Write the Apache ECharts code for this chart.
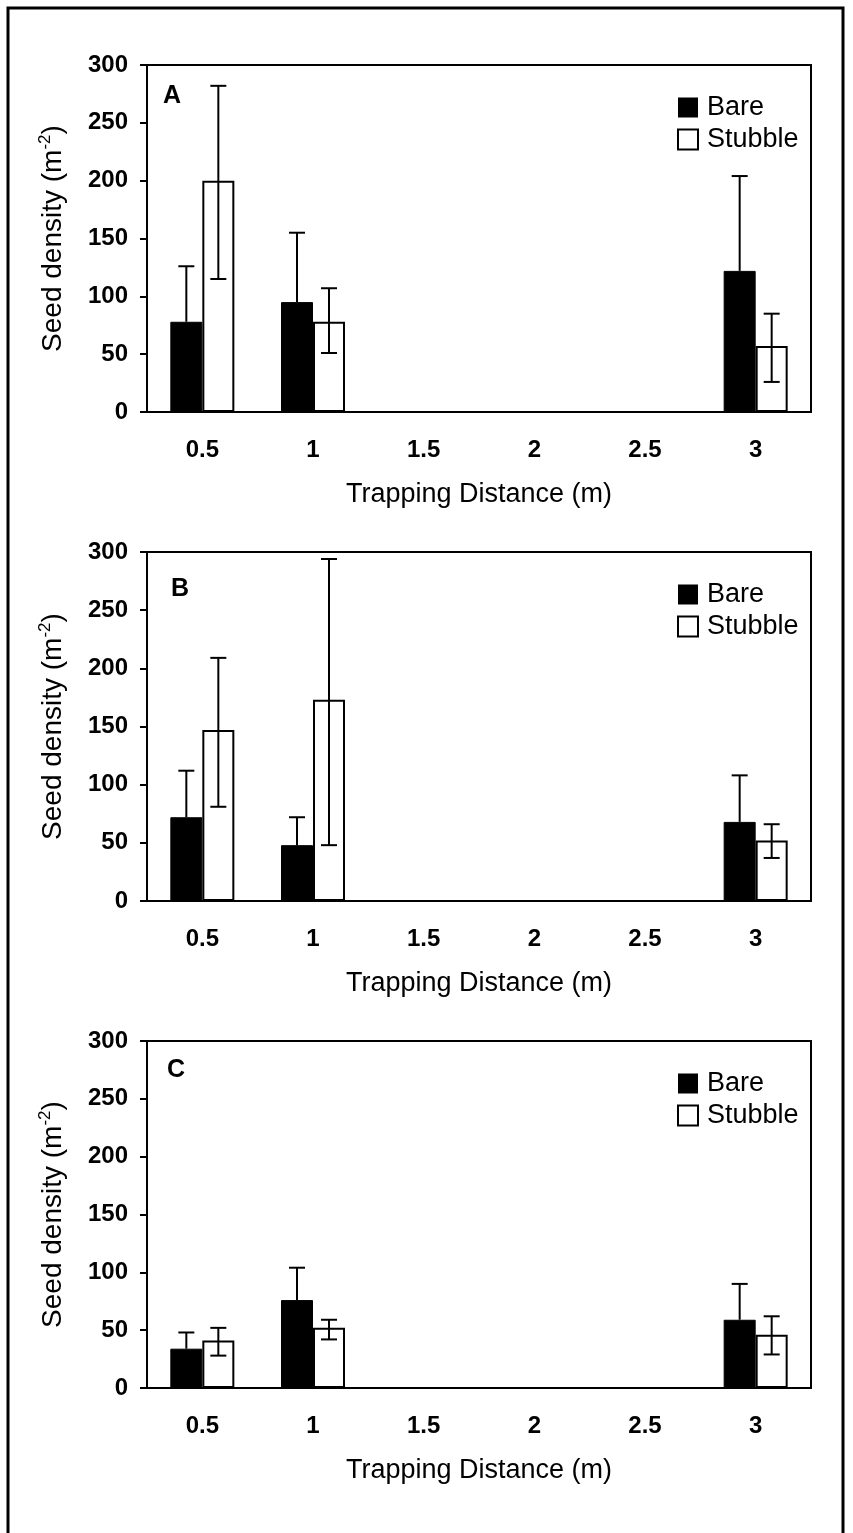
<!DOCTYPE html>
<html>
<head>
<meta charset="utf-8">
<script src="https://cdn.jsdelivr.net/npm/echarts@6/dist/echarts.min.js"></script>
<style>
  html, body { margin: 0; padding: 0; background: #fff; }
  #chart { width: 853px; height: 1533px; }
</style>
</head>
<body>
<div id="chart"></div>
<script>
// trapping distances (m)
const categories = ['0.5', '1', '1.5', '2', '2.5', '3'];

// panel A
const bareA = [78, 95, null, null, null, 122];
const bareAHigh = [126, 155, null, null, null, 204];
const stubbleA = [200, 78, null, null, null, 57];
const stubbleALow = [115, 51, null, null, null, 26];
const stubbleAHigh = [282, 107, null, null, null, 85];

// panel B
const bareB = [72, 48, null, null, null, 68];
const bareBHigh = [112, 72, null, null, null, 108];
const stubbleB = [147, 173, null, null, null, 52];
const stubbleBLow = [81, 48, null, null, null, 37];
const stubbleBHigh = [209, 294, null, null, null, 66];

// panel C
const bareC = [34, 76, null, null, null, 59];
const bareCHigh = [48, 104, null, null, null, 90];
const stubbleC = [41, 52, null, null, null, 46];
const stubbleCLow = [28, 42, null, null, null, 29];
const stubbleCHigh = [52, 59, null, null, null, 62];

const yTicks = [0, 50, 100, 150, 200, 250, 300];

const panels = [
  { label: 'A', bare: bareA, bareHigh: bareAHigh, stubble: stubbleA, stubbleLow: stubbleALow, stubbleHigh: stubbleAHigh },
  { label: 'B', bare: bareB, bareHigh: bareBHigh, stubble: stubbleB, stubbleLow: stubbleBLow, stubbleHigh: stubbleBHigh },
  { label: 'C', bare: bareC, bareHigh: bareCHigh, stubble: stubbleC, stubbleLow: stubbleCLow, stubbleHigh: stubbleCHigh }
];

const FONT = "'Liberation Sans', Arial, sans-serif";
const BAR_W = 32;
const gridPos = [
  { top: 65, height: 347, labelLeft: 163, labelTop: 84 },
  { top: 552, height: 349, labelLeft: 171, labelTop: 577 },
  { top: 1041, height: 347, labelLeft: 167, labelTop: 1058 }
];

const blank = v => (v == null ? '-' : v);

// error bar: vertical line from low to high, cap on top (and bottom if both)
function errorBar(offset, bothCaps) {
  return function (params, api) {
    const hi = api.coord([api.value(0), api.value(2)]);
    const lo = api.coord([api.value(0), api.value(1)]);
    const x = hi[0] + offset;
    const cap = 8;
    const style = { stroke: '#000', lineWidth: 2 };
    const children = [
      { type: 'line', shape: { x1: x, y1: lo[1], x2: x, y2: hi[1] }, style },
      { type: 'line', shape: { x1: x - cap, y1: hi[1], x2: x + cap, y2: hi[1] }, style }
    ];
    if (bothCaps) {
      children.push({ type: 'line', shape: { x1: x - cap, y1: lo[1], x2: x + cap, y2: lo[1] }, style });
    }
    return { type: 'group', children };
  };
}

const grid = [], xAxis = [], yAxis = [], series = [], legend = [], title = [];

panels.forEach((p, i) => {
  const g = gridPos[i];
  grid.push({
    left: 147, width: 664, top: g.top, height: g.height,
    show: true, borderColor: '#000', borderWidth: 2, backgroundColor: '#fff'
  });
  xAxis.push({
    type: 'category', gridIndex: i, data: categories,
    axisLine: { lineStyle: { color: '#000', width: 2 } },
    axisTick: { alignWithLabel: true, length: 7, lineStyle: { color: '#000', width: 2 } },
    axisLabel: { color: '#000', fontSize: 24, fontWeight: 'bold', fontFamily: FONT, margin: 26 },
    splitLine: { show: false },
    name: 'Trapping Distance (m)', nameLocation: 'middle', nameGap: 69,
    nameTextStyle: { color: '#000', fontSize: 27, fontFamily: FONT }
  });
  yAxis.push({
    type: 'value', gridIndex: i, min: yTicks[0], max: yTicks[yTicks.length - 1], interval: 50,
    axisLine: { show: true, lineStyle: { color: '#000', width: 2 } },
    axisTick: { show: true, length: 7, lineStyle: { color: '#000', width: 2 } },
    axisLabel: { color: '#000', fontSize: 24, fontWeight: 'bold', fontFamily: FONT, margin: 19 },
    splitLine: { show: false },
    name: '{a|Seed density (m}{s|-2}{a|)}', nameLocation: 'middle', nameGap: 78,
    nameTextStyle: {
      rich: {
        a: { fontSize: 28, fontFamily: FONT, color: '#000', lineHeight: 32 },
        s: { fontSize: 17, fontFamily: FONT, color: '#000', verticalAlign: 'top', lineHeight: 17 }
      }
    }
  });
  series.push(
    {
      name: 'Bare', type: 'bar', xAxisIndex: i, yAxisIndex: i,
      data: p.bare.map(blank), barWidth: BAR_W, barGap: '0%',
      itemStyle: { color: '#000', borderColor: '#000', borderWidth: 1 }
    },
    {
      name: 'Stubble', type: 'bar', xAxisIndex: i, yAxisIndex: i,
      data: p.stubble.map(blank), barWidth: BAR_W, barGap: '0%',
      itemStyle: { color: '#fff', borderColor: '#000', borderWidth: 2 }
    },
    {
      type: 'custom', xAxisIndex: i, yAxisIndex: i, z: 5,
      renderItem: errorBar(-BAR_W / 2, false),
      encode: { x: 0, y: [1, 2] },
      data: p.bare.map((v, k) => [k, v, p.bareHigh[k]]).filter(d => d[1] != null)
    },
    {
      type: 'custom', xAxisIndex: i, yAxisIndex: i, z: 5,
      renderItem: errorBar(BAR_W / 2, true),
      encode: { x: 0, y: [1, 2] },
      data: p.stubble.map((v, k) => [k, p.stubbleLow[k], p.stubbleHigh[k]]).filter(d => d[1] != null)
    }
  );
  legend.push({
    orient: 'vertical', left: 677, top: g.top + 29, padding: 0,
    itemWidth: 20, itemHeight: 20, itemGap: 5,
    textStyle: { fontSize: 27, fontFamily: FONT, color: '#000', padding: [0, 0, 0, 4] },
    data: [
      { name: 'Bare', icon: 'rect', itemStyle: { color: '#000', borderWidth: 0 } },
      { name: 'Stubble', icon: 'rect', itemStyle: { color: '#fff', borderColor: '#000', borderWidth: 2 } }
    ]
  });
  title.push({
    text: p.label, left: g.labelLeft, top: g.labelTop, padding: 0,
    textStyle: { fontSize: 25, fontWeight: 'bold', fontFamily: FONT, color: '#000' }
  });
});

const myChart = echarts.init(document.getElementById('chart'));
myChart.setOption({
  animation: false,
  backgroundColor: '#fff',
  title,
  legend,
  grid,
  xAxis,
  yAxis,
  series,
  // outer frame of the figure
  graphic: [{
    type: 'polyline',
    shape: { points: [[8, 1533], [8, 8], [843, 8], [843, 1533]] },
    style: { stroke: '#000', lineWidth: 3, fill: null }
  }]
});
</script>
</body>
</html>
